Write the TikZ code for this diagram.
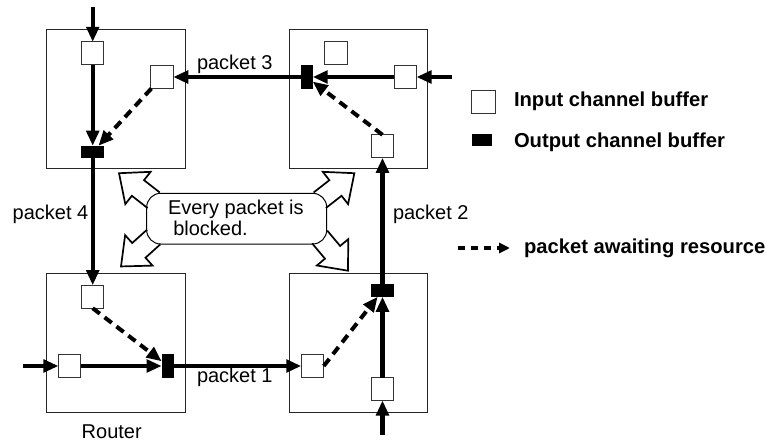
\documentclass[tikz,border=0pt]{standalone}
\usepackage{fontspec}
\setmainfont{Liberation Sans}
\usetikzlibrary{arrows.meta}
\begin{document}
\begin{tikzpicture}[x=1pt,y=-1pt,
  router/.style={draw=black!85, line width=1pt, minimum width=139.5pt, minimum height=139pt, inner sep=0pt, outer sep=0pt},
  inbuf/.style={draw=black!80, fill=white, line width=1pt, minimum width=22.5pt, minimum height=23pt, inner sep=0pt, outer sep=0pt},
  outh/.style={fill=black, minimum width=23pt, minimum height=12.5pt, inner sep=0pt, outer sep=0pt},
  outv/.style={fill=black, minimum width=12pt, minimum height=24pt, inner sep=0pt, outer sep=0pt},
  wire/.style={line width=4.2pt, -{Triangle[length=15pt,width=12.5pt]}},
  waiting/.style={line width=4pt, dash pattern=on 9pt off 6pt, -{Triangle[length=15pt,width=12.5pt]}},
  lbl/.style={anchor=base west, inner sep=0pt, outer sep=0pt, font=\fontsize{20}{24}\selectfont},
  blbl/.style={anchor=base west, inner sep=0pt, outer sep=0pt, font=\fontsize{20.2}{24}\selectfont\bfseries},
  bigarrow/.style={line width=1.7pt, line join=miter}
]
\useasboundingbox (0,0) rectangle (766,441);

% routers
\node[router] (rTL) at (115.85,99.5) {};
\node[router, minimum width=138pt] (rTR) at (358.7,99.5) {};
\node[router, minimum height=139.4pt] (rBL) at (115.85,343) {};
\node[router, minimum width=138pt, minimum height=139.4pt] (rBR) at (358.7,343) {};

% input buffers
\node[inbuf] (tlt) at (92.7,53.3) {};
\node[inbuf] (tlr) at (162,77) {};
\node[inbuf] (tru) at (335.8,53.3) {};
\node[inbuf] (trr) at (405.3,77) {};
\node[inbuf] (trb) at (382.5,146.3) {};
\node[inbuf] (brb) at (382.5,389) {};
\node[inbuf] (brl) at (312.5,366) {};
\node[inbuf] (blt) at (92.7,296.7) {};
\node[inbuf] (bll) at (69.7,366) {};

% output buffers
\node[outh] (tlo) at (92.7,152) {};
\node[outv] (tro) at (306.7,77) {};
\node[outh, minimum width=23.6pt] (bro) at (382.5,290.5) {};
\node[outv, minimum width=12.3pt, minimum height=23.3pt] (blo) at (167.8,366) {};

% free ends
\coordinate (inT) at (92.7,7);
\coordinate (inL) at (23,366);
\coordinate (inB) at (382.5,435);
\coordinate (inR) at (451.7,77);

% solid connectors
\draw[wire] (inT) -- (tlt);
\draw[wire] (tlt) -- (tlo);
\draw[wire] (tlo) -- (blt);
\draw[wire] (inL) -- (bll);
\draw[wire] (bll) -- (blo);
\draw[wire] (blo) -- (brl);
\draw[wire] (inB) -- (brb);
\draw[wire] (brb) -- (bro);
\draw[wire] (bro) -- (trb);
\draw[wire] (inR) -- (trr);
\draw[wire] (trr) -- (tro);
\draw[wire] (tro) -- (tlr);

% waiting connectors
\draw[waiting] (tlr) -- (tlo);
\draw[waiting] (trb.north) -- (tro);
\draw[waiting] (brl.east) -- (bro);
\draw[waiting] (blt.south) -- (blo);

% labels
\node[lbl] (p3) at (197,70) {packet 3};
\node[lbl] (p4) at (12.7,219) {packet 4};
\node[lbl] (p2) at (393,219) {packet 2};
\node[lbl] (p1) at (197,382) {packet 1};
\node[lbl] (rt) at (81.7,438) {Router};

% callout
\node[draw, line width=1pt, rounded corners=14pt, minimum width=180pt, minimum height=50.7pt, inner sep=0pt] (blocked) at (236.7,218.65) {};
\node[lbl] (ev1) at (168,214.3) {Every packet is};
\node[lbl] (ev2) at (173.3,235) {blocked.};

\foreach \mx/\my/\ang in {153.7/200.3/142, 319.7/200.3/38, 153.7/237/222, 319.7/237/310}{
  \draw[bigarrow, shift={(\mx,\my)}, rotate=\ang]
    (0,-9.9) -- (20,-9.9) -- (20,-20.5) -- (44,0) -- (20,20.5) -- (20,9.9) -- (0,9.9);
}

% legend
\node[inbuf, minimum width=23.6pt, minimum height=23.3pt] (legin) at (483.5,101.7) {};
\node[fill=black, minimum width=20pt, minimum height=12pt, inner sep=0pt] (legout) at (482.3,140) {};
\node[blbl] (legint) at (514,106.7) {Input channel buffer};
\node[blbl] (legoutt) at (514,147.3) {Output channel buffer};
\coordinate (lgA) at (458,248);
\coordinate (lgB) at (510,248);
\draw[line width=3.3pt, dash pattern=on 7pt off 6pt, -{Triangle[length=11pt,width=10pt]}] (lgA) -- (lgB);
\node[blbl] (legwt) at (524,253) {packet awaiting resource};
\end{tikzpicture}
\end{document}
